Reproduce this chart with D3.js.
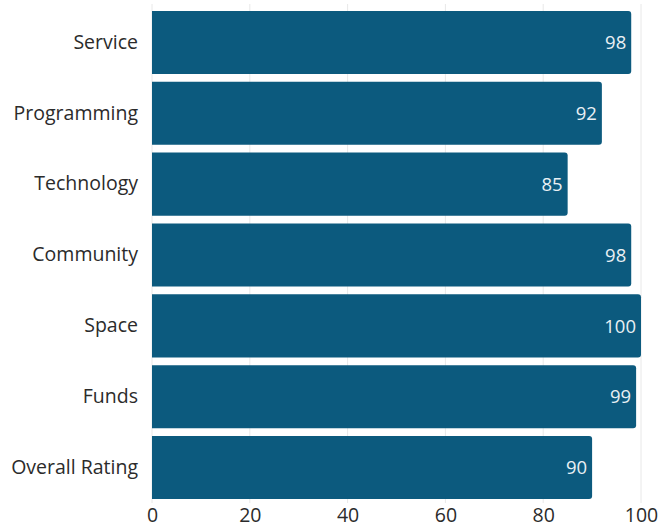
<!DOCTYPE html>
<html><head><meta charset="utf-8">
<script src="https://cdn.jsdelivr.net/npm/d3@7"></script>
<style>body{margin:0;background:#fff;}svg{display:block;font-family:"Open Sans",sans-serif;}</style>
</head><body>
<svg id="c" width="662" height="527"></svg>
<script>
const categories = ["Service","Programming","Technology","Community","Space","Funds","Overall Rating"];
const values = [98,92,85,98,100,99,90];
const tickValues = [0,20,40,60,80,100];

const svg = d3.select("#c");
const x = d3.scaleLinear().domain([0,100]).range([152,641]);
const y = d3.scaleBand().domain(categories).range([7,503]).paddingInner(0.11).paddingOuter(0.055);

svg.append("g").selectAll("line").data(tickValues).join("line")
  .attr("x1",d=>x(d)).attr("x2",d=>x(d)).attr("y1",4).attr("y2",503)
  .attr("stroke","#e8e8e8").attr("stroke-width",1);

const bars = svg.append("g");
categories.forEach((c,i)=>{
  const x0=x(0), x1=x(values[i]), y0=y(c), h=y.bandwidth(), r=3;
  const p=d3.path();
  p.moveTo(x0,y0); p.lineTo(x1-r,y0); p.quadraticCurveTo(x1,y0,x1,y0+r);
  p.lineTo(x1,y0+h-r); p.quadraticCurveTo(x1,y0+h,x1-r,y0+h); p.lineTo(x0,y0+h); p.closePath();
  bars.append("path").attr("d",p.toString()).attr("fill","#0c5a7e");
  bars.append("text").attr("x",x1-5).attr("y",y0+h/2).attr("dy","0.36em")
    .attr("text-anchor","end").attr("fill","#e9f0f4").attr("font-size",18.5).text(values[i]);
});

const ya = svg.append("g").attr("transform","translate(152,0)").call(d3.axisLeft(y).tickSize(0).tickPadding(14));
ya.select(".domain").remove();
ya.selectAll("text").attr("font-size",19.5).attr("fill","#2b2b2b").attr("font-family","Open Sans, sans-serif");

const xa = svg.append("g").attr("transform","translate(0,503)").call(d3.axisBottom(x).tickValues(tickValues).tickSize(0).tickPadding(5));
xa.select(".domain").remove();
xa.selectAll("text").attr("font-size",19.5).attr("fill","#2b2b2b").attr("font-family","Open Sans, sans-serif");
</script>
</body></html>
